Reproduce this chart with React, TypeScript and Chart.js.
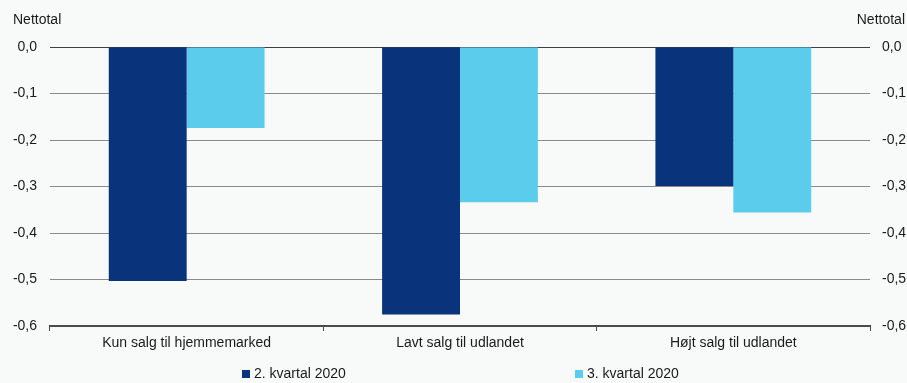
import React, { useEffect, useRef } from "react";
import { Chart, registerables } from "chart.js";

Chart.register(...registerables);

const categories = ["Kun salg til hjemmemarked", "Lavt salg til udlandet", "Højt salg til udlandet"];
const seriesNames = ["2. kvartal 2020", "3. kvartal 2020"];
const q2Values = [-0.503, -0.575, -0.299];
const q3Values = [-0.174, -0.334, -0.356];
const colors = ["#09337a", "#5bcceb"];
const axisTitle = "Nettotal";

const FONT = "Liberation Sans, Arial, sans-serif";

export default function App() {
  const ref = useRef<HTMLCanvasElement | null>(null);

  useEffect(() => {
    document.body.style.margin = "0";
    document.body.style.background = "#f8f9f9";
    const canvas = ref.current;
    if (!canvas) return;

    const fmt = (v: any) => Number(v).toFixed(1).replace(".", ",").replace("-0,0", "0,0");

    const overlay = {
      id: "overlay",
      afterDraw(chart: any) {
        const ctx = chart.ctx;
        ctx.save();
        ctx.fillStyle = "#1a1a1a";
        ctx.font = `14px ${FONT}`;
        ctx.textBaseline = "middle";
        ctx.textAlign = "left";
        ctx.fillText(axisTitle, 13, 20);
        ctx.textAlign = "right";
        ctx.fillText(axisTitle, 905, 20);
        // legend
        const pos = [242, 575];
        chart.data.datasets.forEach((ds: any, i: number) => {
          ctx.fillStyle = ds.backgroundColor;
          ctx.fillRect(pos[i], 370, 8, 8);
          ctx.fillStyle = "#1a1a1a";
          ctx.textAlign = "left";
          ctx.fillText(ds.label, pos[i] + 12, 374);
        });
        ctx.restore();
      },
    };

    const chart = new Chart(canvas, {
      type: "bar",
      data: {
        labels: categories,
        datasets: [
          { label: seriesNames[0], data: q2Values, backgroundColor: colors[0], borderWidth: 0 },
          { label: seriesNames[1], data: q3Values, backgroundColor: colors[1], borderWidth: 0 },
        ],
      },
      options: {
        animation: false,
        responsive: false,
        maintainAspectRatio: false,
        layout: { padding: { top: 47, left: 0, right: 0, bottom: 0 } },
        datasets: { bar: { categoryPercentage: 0.57, barPercentage: 1 } } as any,
        plugins: { legend: { display: false }, tooltip: { enabled: false } },
        scales: {
          x: {
            afterFit: (s: any) => { s.height = 57; },
            border: { display: true, color: "#4a4a4a", width: 2 },
            grid: { drawOnChartArea: false, drawTicks: true, tickLength: 5, tickColor: "#4a4a4a", offset: true },
            ticks: { color: "#1a1a1a", font: { size: 14, family: FONT }, padding: 4, maxRotation: 0 },
          },
          y: {
            position: "left",
            min: -0.6,
            max: 0,
            afterFit: (s: any) => { s.width = 50; },
            border: { display: false },
            grid: {
              drawTicks: false,
              color: (c: any) => (Math.abs(c.tick.value) < 1e-9 ? "#404040" : Math.abs(c.tick.value + 0.6) < 1e-9 ? "rgba(0,0,0,0)" : "#8a8a8a"),
              lineWidth: 1,
            },
            ticks: { stepSize: 0.1, padding: 13, color: "#1a1a1a", font: { size: 14, family: FONT }, callback: fmt },
          },
          y2: {
            display: true,
            position: "right",
            min: -0.6,
            max: 0,
            afterFit: (s: any) => { s.width = 37; },
            border: { display: false },
            grid: { drawOnChartArea: false, drawTicks: false },
            ticks: { stepSize: 0.1, padding: 12, color: "#1a1a1a", font: { size: 14, family: FONT }, callback: fmt },
          },
        },
      },
      plugins: [overlay],
    } as any);

    return () => chart.destroy();
  }, []);

  return (
    <div style={{ width: 907, height: 383 }}>
      <canvas ref={ref} width={907} height={383} style={{ display: "block" }} />
    </div>
  );
}
